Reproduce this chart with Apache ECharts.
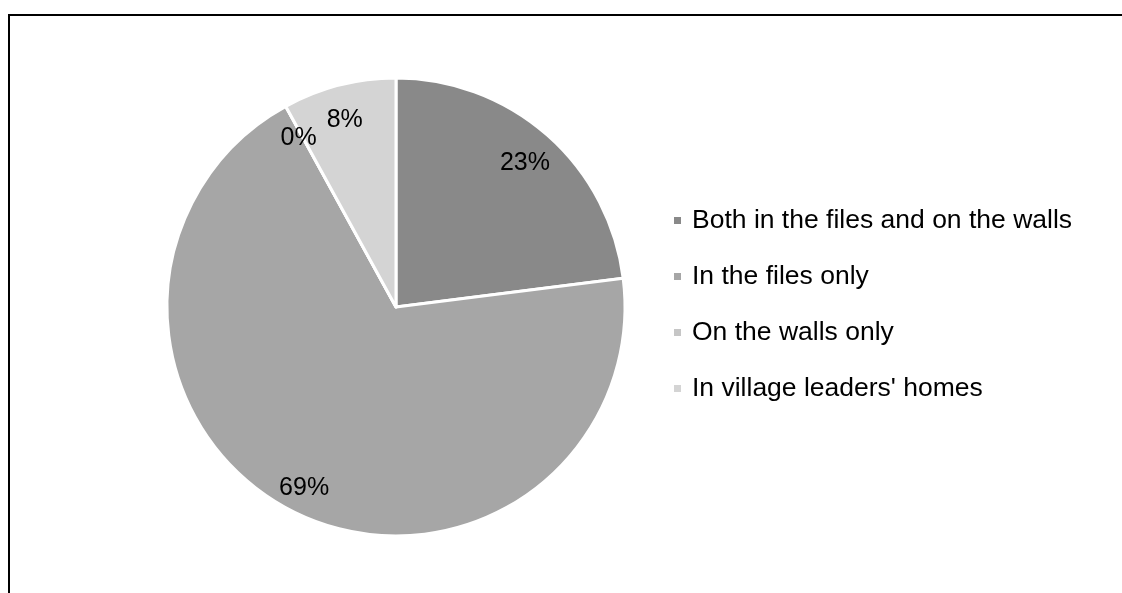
<!DOCTYPE html>
<html>
<head>
<meta charset="utf-8">
<script src="https://cdn.jsdelivr.net/npm/echarts@6/dist/echarts.min.js"></script>
<style>
  html, body { margin: 0; padding: 0; background: #fff; }
  #chart { width: 1122px; height: 593px; }
</style>
</head>
<body>
<div id="chart"></div>
<script>
// Where the documents are kept (share of villages, %)
const categories = [
  'Both in the files and on the walls',
  'In the files only',
  'On the walls only',
  "In village leaders' homes"
];
const shares = [23, 69, 0, 8];
const sliceColors = ['#898989', '#a6a6a6', '#c6c6c6', '#d4d4d4'];

const FONT = '"Liberation Sans", Arial, sans-serif';
const pieCenter = [396, 307];
const pieRadius = 229;

const slices = categories.map((name, i) => ({
  name: name,
  value: shares[i],
  itemStyle: { color: sliceColors[i] }
}));

const chart = echarts.init(document.getElementById('chart'), null, { renderer: 'canvas' });
chart.setOption({
  animation: false,
  backgroundColor: '#ffffff',
  legend: {
    orient: 'vertical',
    left: 672,
    top: 207,
    padding: 0,
    data: categories,
    icon: 'rect',
    itemWidth: 9,
    itemHeight: 9,
    itemGap: 29,
    selectedMode: false,
    textStyle: { fontFamily: FONT, fontSize: 26.5, color: '#000', lineHeight: 26, padding: [0, 0, 0, 5] }
  },
  graphic: [
    // frame edges along the top and left
    { type: 'line', shape: { x1: 9, y1: 15, x2: 1122, y2: 15 }, style: { stroke: '#000', lineWidth: 2 }, silent: true },
    { type: 'line', shape: { x1: 9, y1: 14, x2: 9, y2: 593 }, style: { stroke: '#000', lineWidth: 2 }, silent: true }
  ],
  series: [
    {
      type: 'pie',
      center: pieCenter,
      radius: [0, pieRadius],
      startAngle: 90,
      clockwise: true,
      silent: true,
      label: { show: false },
      labelLine: { show: false },
      itemStyle: { borderColor: '#ffffff', borderWidth: 3 },
      emphasis: { disabled: true },
      data: slices
    },
    {
      // label layer: wider transparent ring puts the percentages near the rim
      type: 'pie',
      center: [pieCenter[0] - 2, pieCenter[1] + 5],
      radius: [0, 390],
      startAngle: 90,
      clockwise: true,
      silent: true,
      z: 3,
      itemStyle: { color: 'rgba(0,0,0,0)', borderWidth: 0 },
      emphasis: { disabled: true },
      label: {
        show: true,
        position: 'inside',
        formatter: p => p.value + '%',
        fontFamily: FONT,
        fontSize: 25,
        color: '#000'
      },
      labelLine: { show: false },
      data: categories.map((name, i) => ({ name: name, value: shares[i] }))
    }
  ]
});
</script>
</body>
</html>
